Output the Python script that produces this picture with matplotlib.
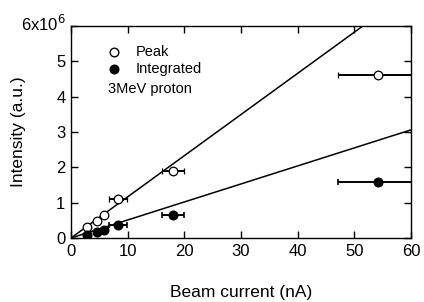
import matplotlib
matplotlib.use("Agg")
import matplotlib.pyplot as plt
import numpy as np

plt.rcParams['font.family'] = ['Liberation Sans', 'DejaVu Sans']

current = [2.9, 4.5, 5.9, 8.35, 18.0, 54.1]
current_err = [0, 0, 0, 1.6, 2.0, 7.0]
peak = [0.30e6, 0.47e6, 0.66e6, 1.11e6, 1.91e6, 4.61e6]
integrated = [0.095e6, 0.17e6, 0.22e6, 0.38e6, 0.66e6, 1.58e6]
peak_slope = 1.165e5
integ_slope = 0.51e5

fig = plt.figure(figsize=(4.24, 3.02), dpi=100)
ax = fig.add_axes([71 / 424, 1 - 238 / 302, 340 / 424, 212 / 302])

xs = np.array([0, 60])
ax.plot(xs, peak_slope * xs, color='black', lw=1.1)
ax.plot(xs, integ_slope * xs, color='black', lw=1.1)

ax.errorbar(current, peak, xerr=current_err, fmt='o', mfc='white', mec='black',
            ecolor='black', ms=6.2, capsize=2.5, elinewidth=1.4, capthick=1.2, mew=0.9)
ax.errorbar(current, integrated, xerr=current_err, fmt='o', mfc='black', mec='black',
            ecolor='black', ms=6.2, capsize=2.5, elinewidth=1.4, capthick=1.2)

ax.set_xlim(0, 60)
ax.set_ylim(0, 6e6)
ax.set_xticks(range(0, 61, 10))
ax.set_yticks(np.arange(0, 6.1e6, 1e6))
ax.set_yticklabels(['0', '1', '2', '3', '4', '5', ''])
ax.text(-0.9, 6.05e6, r'6x10$^{6}$', ha='right', va='center', fontsize=12)
ax.tick_params(direction='in', top=True, right=True, labelsize=12, length=5, width=1, pad=4)
for s in ax.spines.values():
    s.set_linewidth(1)

ax.set_xlabel('Beam current (nA)', fontsize=12.5, labelpad=19)
ax.set_ylabel('Intensity (a.u.)', fontsize=12.5, labelpad=22)

# legend
ax.plot([7.6], [5.27e6], 'o', mfc='white', mec='black', ms=6.2)
ax.plot([7.6], [4.78e6], 'o', mfc='black', mec='black', ms=6.2)
ax.text(11.4, 5.27e6, 'Peak', va='center', fontsize=10.5)
ax.text(11.4, 4.78e6, 'Integrated', va='center', fontsize=10.5)
ax.text(6.6, 4.22e6, '3MeV proton', va='center', fontsize=10.5)

fig.savefig('out.png', dpi=100)
